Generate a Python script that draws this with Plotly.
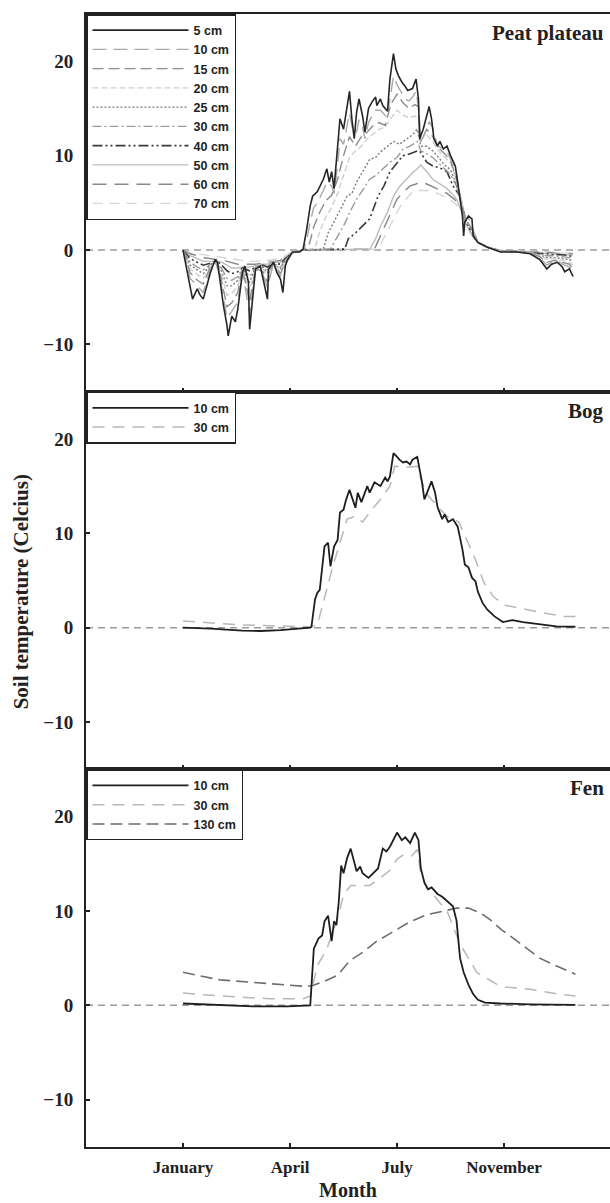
import plotly.graph_objects as go

# ---------------- data (x = days after 1 January; y = soil temperature, deg C) ----------------
month_ticks = [0, 90, 180, 270]
month_labels = ["January", "April", "July", "November"]
temp_ticks = [-10, 0, 10, 20]

# Peat plateau, 5 cm
p5_x = [0, 3, 6, 8, 12, 14, 17, 20, 23, 27, 29, 31, 34, 37, 38, 41, 44, 46, 50, 52, 55, 56, 59, 61, 65, 67, 71, 72,
        76, 79, 82, 84, 86, 88, 92, 98,
        101, 104, 107, 109, 113, 118, 121, 123, 125, 127, 130, 132, 135, 138, 140, 142, 144, 146, 148, 151, 153, 156,
        159, 162, 163, 166, 168, 172, 174, 177, 179, 181, 184, 187, 189, 193, 194, 196, 198, 199, 202, 205, 207, 209,
        211, 214, 216, 219, 222, 225, 229, 231, 233, 235, 236, 237, 240, 243, 244, 248, 256, 267, 281, 292, 300, 306,
        310, 315, 319, 321, 325, 328]
p5_y = [0, -2.0, -3.8, -5.2, -4.1, -4.7, -5.2, -3.8, -2.4, -1.0, -1.3, -3.1, -5.9, -8.0, -9.1, -7.0, -7.6, -6.3, -2.4,
        -1.7, -3.4, -8.4, -4.9, -2.0, -1.7, -2.8, -5.2, -2.0, -1.3, -2.4, -3.1, -4.5, -1.7, -1.0, -0.2, -0.2,
        0.1, 2.2, 4.7, 5.7, 6.2, 7.5, 8.6, 7.2, 8.3, 6.5, 11.0, 13.9, 12.8, 15.3, 16.8, 13.9, 11.8, 14.6, 16.0, 14.2,
        12.5, 15.0, 15.7, 16.2, 15.3, 16.0, 15.3, 14.7, 18.1, 20.8, 19.2, 18.5, 17.8, 17.3, 16.9, 17.1, 17.4, 18.1,
        16.0, 11.8, 12.8, 14.2, 15.2, 13.9, 11.8, 11.0, 11.5, 10.7, 11.0, 10.0, 8.9, 7.2, 5.4, 3.6, 1.5, 3.0, 3.6, 3.3,
        1.5, 0.8, 0.3, -0.2, -0.2, -0.4, -1.0, -2.0, -1.5, -1.3, -1.8, -2.3, -2.0, -2.8]

# Peat plateau, deeper sensors: winter part (shared x) + thaw-season part
pw_x = [0, 6, 12, 17, 23, 27, 31, 37, 41, 46, 50, 56, 61, 67, 71, 76, 82, 86, 92, 98]
p10_wy = [0, -3.0, -3.8, -4.5, -2.0, -1.0, -2.8, -7.2, -6.5, -5.5, -2.2, -6.8, -2.0, -2.5, -4.0, -1.4, -2.8, -1.5, -0.3, -0.1]
p15_wy = [0, -2.4, -3.2, -3.6, -1.8, -1.2, -2.4, -6.0, -5.6, -4.5, -2.0, -5.5, -1.9, -2.3, -3.4, -1.4, -2.5, -1.3, -0.3, -0.1]
p20_wy = [0, -2.0, -2.6, -3.0, -1.7, -1.2, -2.0, -4.8, -4.6, -3.8, -2.0, -4.3, -1.8, -2.0, -2.8, -1.4, -2.2, -1.2, -0.3, -0.1]
p25_wy = [0, -1.6, -2.1, -2.5, -1.6, -1.2, -1.8, -3.8, -3.8, -3.2, -2.0, -3.4, -1.8, -1.8, -2.4, -1.4, -2.0, -1.1, -0.3, -0.1]
p30_wy = [0, -1.3, -1.8, -2.1, -1.5, -1.3, -1.6, -3.0, -3.2, -2.8, -2.0, -2.8, -1.8, -1.7, -2.1, -1.4, -1.8, -1.0, -0.3, -0.1]
p40_wy = [0, -0.9, -1.3, -1.6, -1.4, -1.3, -1.4, -2.2, -2.5, -2.3, -1.9, -2.2, -1.8, -1.6, -1.8, -1.4, -1.5, -0.9, -0.3, -0.1]
p50_wy = [0, -0.6, -0.9, -1.2, -1.2, -1.2, -1.2, -1.6, -1.9, -1.9, -1.8, -1.8, -1.7, -1.5, -1.5, -1.3, -1.3, -0.8, -0.3, -0.1]
p60_wy = [0, -0.4, -0.6, -0.8, -0.9, -1.0, -1.0, -1.2, -1.4, -1.5, -1.5, -1.5, -1.5, -1.4, -1.3, -1.2, -1.1, -0.7, -0.3, -0.1]
p70_wy = [0, -0.3, -0.4, -0.5, -0.6, -0.7, -0.8, -0.9, -1.0, -1.1, -1.1, -1.2, -1.2, -1.1, -1.1, -1.0, -0.9, -0.6, -0.2, -0.1]

p10_sx = [101, 104, 107, 110, 113, 118, 121, 125, 127, 130, 132, 135, 138, 140, 143, 146, 148, 151, 153, 156, 159, 162,
          166, 168, 172, 174, 177, 180, 184, 187, 190, 193, 196, 198, 200, 203, 207, 210, 214, 218, 222, 225, 229, 233,
          236, 240, 244, 248, 256, 267, 281, 292, 300, 306, 310, 315, 319, 325, 328]
p10_sy = [0, 1.0, 3.0, 4.5, 5.0, 6.3, 7.2, 6.8, 6.0, 9.0, 11.8, 11.2, 13.0, 14.5, 12.5, 12.5, 13.8, 13.0, 11.8, 13.5,
          14.2, 14.8, 14.8, 14.5, 14.0, 16.0, 18.4, 17.5, 16.6, 16.0, 15.8, 16.2, 16.8, 15.2, 11.5, 12.2, 13.6, 13.0,
          11.0, 10.8, 10.4, 9.6, 8.6, 5.8, 3.2, 3.4, 2.2, 0.8, 0.3, -0.1, -0.2, -0.3, -0.8, -1.6, -1.3, -1.1, -1.5,
          -1.8, -2.4]
p15_sx = [101, 106, 110, 115, 120, 125, 130, 135, 140, 145, 150, 155, 160, 165, 170, 175, 180, 185, 190, 195, 198, 200,
          205, 210, 215, 220, 225, 230, 234, 238, 244, 248, 256, 267, 281, 292, 300, 306, 312, 319, 325, 328]
p15_sy = [0, 0.5, 2.5, 4.0, 5.2, 5.8, 7.5, 10.0, 12.0, 11.0, 12.0, 12.5, 13.2, 13.5, 13.2, 15.5, 16.5, 15.6, 15.0, 15.4,
          15.2, 11.5, 12.8, 12.0, 10.8, 10.2, 9.5, 7.5, 5.0, 3.2, 2.0, 0.8, 0.3, -0.1, -0.2, -0.3, -0.7, -1.3, -1.1,
          -1.3, -1.5, -2.0]
p20_sx = [101, 111, 115, 120, 125, 130, 135, 140, 145, 150, 155, 160, 165, 170, 175, 180, 185, 190, 195, 198, 200, 205,
          210, 215, 220, 225, 230, 234, 238, 244, 248, 256, 267, 281, 292, 300, 306, 312, 319, 325, 328]
p20_sy = [0, 0.2, 2.0, 3.5, 4.5, 6.0, 8.0, 9.8, 10.5, 11.0, 11.8, 12.3, 12.8, 13.0, 14.0, 14.8, 14.3, 14.0, 14.2, 14.0,
          11.8, 12.2, 11.5, 10.5, 9.8, 9.2, 7.5, 5.2, 3.2, 2.0, 0.8, 0.3, -0.1, -0.2, -0.3, -0.6, -1.0, -0.9, -1.1,
          -1.3, -1.6]
p25_sx = [101, 118, 122, 127, 132, 138, 142, 146, 152, 157, 162, 166, 172, 177, 182, 188, 193, 197, 200, 205, 210, 215,
          220, 225, 230, 234, 238, 244, 248, 256, 267, 281, 292, 300, 306, 312, 319, 325, 328]
p25_sy = [0, 0.1, 1.8, 3.0, 4.2, 5.7, 6.0, 7.2, 8.5, 9.6, 9.8, 10.4, 11.0, 11.5, 11.2, 11.8, 12.2, 12.8, 11.0, 11.0,
          10.5, 9.8, 9.0, 8.5, 7.0, 5.0, 3.0, 2.0, 0.8, 0.3, -0.1, -0.2, -0.3, -0.5, -0.8, -0.8, -0.9, -1.0, -1.2]
p30_sx = [101, 124, 130, 136, 141, 146, 152, 157, 163, 168, 174, 180, 185, 191, 197, 200, 205, 210, 215, 220, 225, 230,
          234, 238, 244, 248, 256, 267, 281, 292, 300, 306, 312, 319, 325, 328]
p30_sy = [0, 0.1, 1.5, 2.8, 4.2, 5.4, 6.5, 7.5, 8.0, 8.6, 9.3, 9.8, 10.7, 11.0, 11.5, 10.5, 10.2, 9.8, 9.2, 8.5, 8.0,
          6.8, 5.0, 3.0, 2.0, 0.8, 0.3, -0.1, -0.2, -0.3, -0.4, -0.6, -0.6, -0.7, -0.8, -1.0]
p40_sx = [101, 136, 139, 145, 151, 157, 164, 169, 174, 180, 185, 191, 197, 199, 205, 210, 216, 222, 227, 233, 237, 240,
          244, 248, 256, 267, 281, 292, 300, 306, 312, 319, 325, 328]
p40_sy = [0, 0.1, 1.2, 1.8, 2.6, 3.3, 5.7, 6.8, 8.3, 9.2, 10.0, 10.2, 10.5, 10.5, 9.3, 8.9, 8.7, 8.3, 6.8, 5.7, 3.5,
          2.4, 1.8, 0.8, 0.3, -0.1, -0.2, -0.3, -0.3, -0.4, -0.5, -0.5, -0.6, -0.7]
p50_sx = [101, 157, 162, 166, 172, 177, 182, 188, 193, 197, 200, 205, 210, 216, 222, 226, 230, 234, 238, 242, 248, 256,
          267, 281, 292, 300, 310, 319, 328]
p50_sy = [0, 0.1, 1.2, 2.5, 4.0, 5.7, 6.7, 7.5, 8.2, 8.6, 9.0, 8.3, 7.5, 7.0, 6.5, 6.0, 5.4, 4.2, 2.8, 1.8, 0.8, 0.3,
          -0.1, -0.2, -0.2, -0.3, -0.4, -0.5, -0.5]
p60_sx = [101, 161, 166, 172, 176, 180, 186, 191, 196, 199, 205, 210, 216, 222, 228, 233, 238, 242, 248, 256, 267, 281,
          292, 300, 310, 319, 328]
p60_sy = [0, 0.1, 1.5, 3.3, 4.4, 5.4, 6.2, 6.8, 7.0, 7.2, 7.0, 6.7, 6.4, 6.0, 5.4, 4.8, 3.0, 1.8, 0.8, 0.3, -0.1, -0.1,
          -0.2, -0.2, -0.3, -0.4, -0.4]
p70_sx = [101, 164, 170, 176, 183, 188, 193, 200, 205, 210, 216, 222, 227, 232, 237, 242, 248, 256, 267, 281, 292, 300,
          310, 319, 328]
p70_sy = [0, 0.1, 1.5, 3.0, 4.7, 5.5, 6.2, 6.3, 6.3, 6.2, 5.9, 5.5, 5.1, 4.6, 3.2, 1.8, 0.8, 0.3, 0, -0.1, -0.1, -0.2,
          -0.2, -0.3, -0.3]

# Bog
bog10_x = [0, 23, 50, 65, 82, 98, 107, 108, 111, 113, 115, 119, 122, 124, 127, 130, 132, 135, 137, 140, 143, 145, 147,
           150, 155, 157, 161, 166, 170, 172, 174, 177, 180, 182, 185, 188, 191, 193, 197, 198, 201, 203, 205, 209, 212,
           214, 218, 220, 223, 227, 231, 235, 237, 240, 243, 246, 248, 252, 256, 262, 269, 277, 286, 300, 314, 330]
bog10_y = [0.0, -0.1, -0.3, -0.35, -0.25, -0.1, 0.0, 0.1, 3.0, 3.7, 4.0, 8.6, 9.0, 6.5, 8.6, 9.3, 12.2, 12.5, 13.5,
           14.6, 13.3, 12.7, 14.3, 13.3, 15.0, 14.3, 15.4, 15.0, 15.9, 15.5, 16.0, 18.5, 18.1, 17.8, 17.5, 17.6, 17.3,
           17.8, 18.1, 17.5, 15.4, 13.6, 14.3, 15.5, 14.3, 12.8, 11.5, 12.0, 11.2, 11.5, 10.7, 8.3, 6.7, 6.4, 5.3, 4.9,
           3.8, 2.6, 1.9, 1.2, 0.6, 0.8, 0.6, 0.4, 0.15, 0.1]
bog30_x = [0, 23, 50, 73, 107, 113, 117, 126, 132, 138, 145, 151, 157, 166, 174, 178, 188, 197, 201, 206, 213, 222, 232,
           240, 246, 253, 261, 270, 278, 292, 306, 320, 330]
bog30_y = [0.7, 0.5, 0.3, 0.2, 0.1, 0.3, 2.2, 6.5, 9.0, 11.5, 11.8, 11.2, 12.2, 13.6, 15.0, 17.1, 17.0, 17.1, 15.4, 14.0,
           13.0, 11.8, 11.2, 9.0, 7.2, 4.8, 3.3, 2.4, 2.2, 1.8, 1.5, 1.2, 1.2]

# Fen
fen10_x = [0, 23, 59, 88, 107, 110, 112, 114, 117, 119, 122, 125, 127, 129, 131, 133, 135, 138, 141, 143, 146, 149, 151,
           156, 160, 164, 168, 171, 174, 180, 184, 187, 191, 195, 198, 200, 203, 206, 209, 214, 218, 223, 227, 230, 233,
           236, 240, 244, 248, 254, 267, 292, 330]
fen10_y = [0.2, 0.1, -0.1, -0.1, 0.0, 6.0, 6.6, 7.1, 7.4, 8.9, 9.5, 6.8, 8.9, 8.5, 11.0, 14.8, 14.0, 15.6, 16.6, 15.6,
           14.2, 14.7, 14.0, 13.5, 14.0, 14.5, 16.6, 16.3, 16.8, 18.3, 17.5, 17.8, 17.2, 18.3, 17.5, 14.5, 13.0, 12.3,
           12.5, 11.8, 11.5, 11.0, 10.5, 9.0, 5.0, 3.5, 2.2, 1.2, 0.6, 0.3, 0.2, 0.1, 0.05]
fen30_x = [0, 31, 73, 101, 107, 113, 121, 130, 135, 141, 149, 157, 166, 174, 180, 186, 192, 197, 200, 205, 209, 215, 222,
           233, 247, 267, 292, 315, 330]
fen30_y = [1.3, 1.0, 0.7, 0.7, 1.0, 4.2, 6.0, 9.2, 11.7, 12.7, 12.7, 12.7, 13.5, 14.3, 15.5, 16.0, 15.8, 16.5, 14.0,
           12.5, 12.0, 11.0, 10.0, 6.5, 3.5, 2.0, 1.7, 1.2, 1.0]
fen130_x = [0, 31, 73, 104, 109, 118, 130, 140, 152, 163, 174, 190, 205, 218, 230, 240, 250, 258, 268, 279, 290, 300,
            310, 317, 330]
fen130_y = [3.5, 2.7, 2.3, 2.0, 2.1, 2.5, 3.2, 4.7, 5.7, 6.8, 7.6, 8.8, 9.6, 10.0, 10.3, 10.3, 9.8, 9.1, 8.0, 7.0, 6.0,
            5.0, 4.4, 4.0, 3.3]

# ---------------- styling ----------------
SERIF = "Liberation Serif"
SANS = "Liberation Sans"
INK = "#222222"

peat_series = [
    ("5 cm", p5_x, p5_y, "#262626", "solid", 1.6),
    ("10 cm", pw_x + p10_sx, p10_wy + p10_sy, "#a8a8a8", "14px,7px", 1.4),
    ("15 cm", pw_x + p15_sx, p15_wy + p15_sy, "#8c8c8c", "11px,5px", 1.4),
    ("20 cm", pw_x + p20_sx, p20_wy + p20_sy, "#cfcfcf", "6px,3px", 1.4),
    ("25 cm", pw_x + p25_sx, p25_wy + p25_sy, "#7a7a7a", "2px,2px", 1.4),
    ("30 cm", pw_x + p30_sx, p30_wy + p30_sy, "#9a9a9a", "9px,3px,2px,3px", 1.4),
    ("40 cm", pw_x + p40_sx, p40_wy + p40_sy, "#3a3a3a", "10px,3px,2px,3px,2px,3px", 1.6),
    ("50 cm", pw_x + p50_sx, p50_wy + p50_sy, "#bdbdbd", "solid", 1.4),
    ("60 cm", pw_x + p60_sx, p60_wy + p60_sy, "#8a8a8a", "14px,8px", 1.5),
    ("70 cm", pw_x + p70_sx, p70_wy + p70_sy, "#d6d6d6", "10px,7px", 1.4),
]
bog_series = [
    ("10 cm", bog10_x, bog10_y, "#1e1e1e", "solid", 1.8),
    ("30 cm", bog30_x, bog30_y, "#b8b8b8", "12px,8px", 1.5),
]
fen_series = [
    ("10 cm", fen10_x, fen10_y, "#1e1e1e", "solid", 1.8),
    ("30 cm", fen30_x, fen30_y, "#b8b8b8", "12px,8px", 1.5),
    ("130 cm", fen130_x, fen130_y, "#6e6e6e", "12px,6px", 1.6),
]

fig = go.Figure()
panels = [
    ("Peat plateau", peat_series, "x", "y", "legend"),
    ("Bog", bog_series, "x2", "y2", "legend2"),
    ("Fen", fen_series, "x3", "y3", "legend3"),
]
for title, series, xa, ya, lg in panels:
    # draw deepest first so the shallow (dark) lines sit on top, keep legend order shallow -> deep
    for rank, (name, xs, ys, col, dash, w) in reversed(list(enumerate(series))):
        fig.add_trace(go.Scatter(
            x=xs, y=ys, name=name, mode="lines", xaxis=xa, yaxis=ya, legend=lg,
            legendrank=rank + 1,
            line=dict(color=col, dash=dash, width=w),
        ))

# ---------------- layout ----------------
W, H = 610, 1203
ML, MR, MT, MB = 86, 0, 14, 56
xrange_ = [-81.6, 359.1]
yrange_ = [-15, 25]
domains = {"y": [2 / 3, 1.0], "y2": [1 / 3, 2 / 3], "y3": [0.0, 1 / 3]}


def xaxis_cfg(anchor, show_labels):
    return dict(
        anchor=anchor, domain=[0, 1], range=xrange_, tickmode="array", tickvals=month_ticks,
        ticktext=month_labels, showticklabels=show_labels, ticks="inside", ticklen=4, tickwidth=1.5,
        tickcolor=INK, showline=True, linecolor=INK, linewidth=2, mirror=True, showgrid=False,
        zeroline=False, ticklabelstandoff=4,
        tickfont=dict(family=SERIF, size=17, color=INK, weight="bold"),
    )


def yaxis_cfg(anchor, dom):
    return dict(
        anchor=anchor, domain=dom, range=yrange_, tickmode="array", tickvals=temp_ticks,
        ticks="inside", ticklen=4, tickwidth=1.5, tickcolor=INK, showline=True, linecolor=INK,
        linewidth=2, showgrid=False, zeroline=False, ticklabelstandoff=7,
        tickfont=dict(family=SERIF, size=19, color=INK, weight="bold"),
    )


def legend_cfg(ytop):
    return dict(
        x=0, y=ytop, xref="paper", yref="paper", xanchor="left", yanchor="top",
        bgcolor="white", bordercolor=INK, borderwidth=1.5, itemwidth=96,
        font=dict(family=SANS, size=12.5, color=INK, weight="bold"), tracegroupgap=0,
        traceorder="normal",
    )


xa3 = xaxis_cfg("y3", True)
xa3["title"] = dict(text="Month", font=dict(family=SERIF, size=20, color=INK, weight="bold"), standoff=7)

fig.update_layout(
    width=W, height=H, margin=dict(l=ML, r=MR, t=MT, b=MB),
    paper_bgcolor="white", plot_bgcolor="white",
    xaxis=xaxis_cfg("y", False), xaxis2=xaxis_cfg("y2", False), xaxis3=xa3,
    yaxis=yaxis_cfg("x", domains["y"]), yaxis2=yaxis_cfg("x2", domains["y2"]),
    yaxis3=yaxis_cfg("x3", domains["y3"]),
    legend=legend_cfg(1.0), legend2=legend_cfg(2 / 3), legend3=legend_cfg(1 / 3),
    showlegend=True,
)

# dashed zero reference line in every panel
for xa, ya in [("x", "y"), ("x2", "y2"), ("x3", "y3")]:
    fig.add_shape(type="line", xref=f"{xa} domain", yref=ya, x0=0, x1=1, y0=0, y1=0,
                  line=dict(color="#9a9a9a", width=1.5, dash="7px,5px"), layer="below")

# panel names
for title, xa, ya in [("Peat plateau", "x", "y"), ("Bog", "x2", "y2"), ("Fen", "x3", "y3")]:
    fig.add_annotation(text=title, xref=f"{xa} domain", yref=f"{ya} domain", x=0.992, y=0.95,
                       xanchor="right", yanchor="middle", showarrow=False,
                       font=dict(family=SERIF, size=21, color=INK, weight="bold"))

# y-axis title
fig.add_annotation(text="Soil temperature (Celcius)", xref="paper", yref="paper", x=-0.125, y=0.49,
                   xanchor="center", yanchor="middle", textangle=-90, showarrow=False,
                   font=dict(family=SERIF, size=21, color=INK, weight="bold"))

fig.write_html("out.html")
